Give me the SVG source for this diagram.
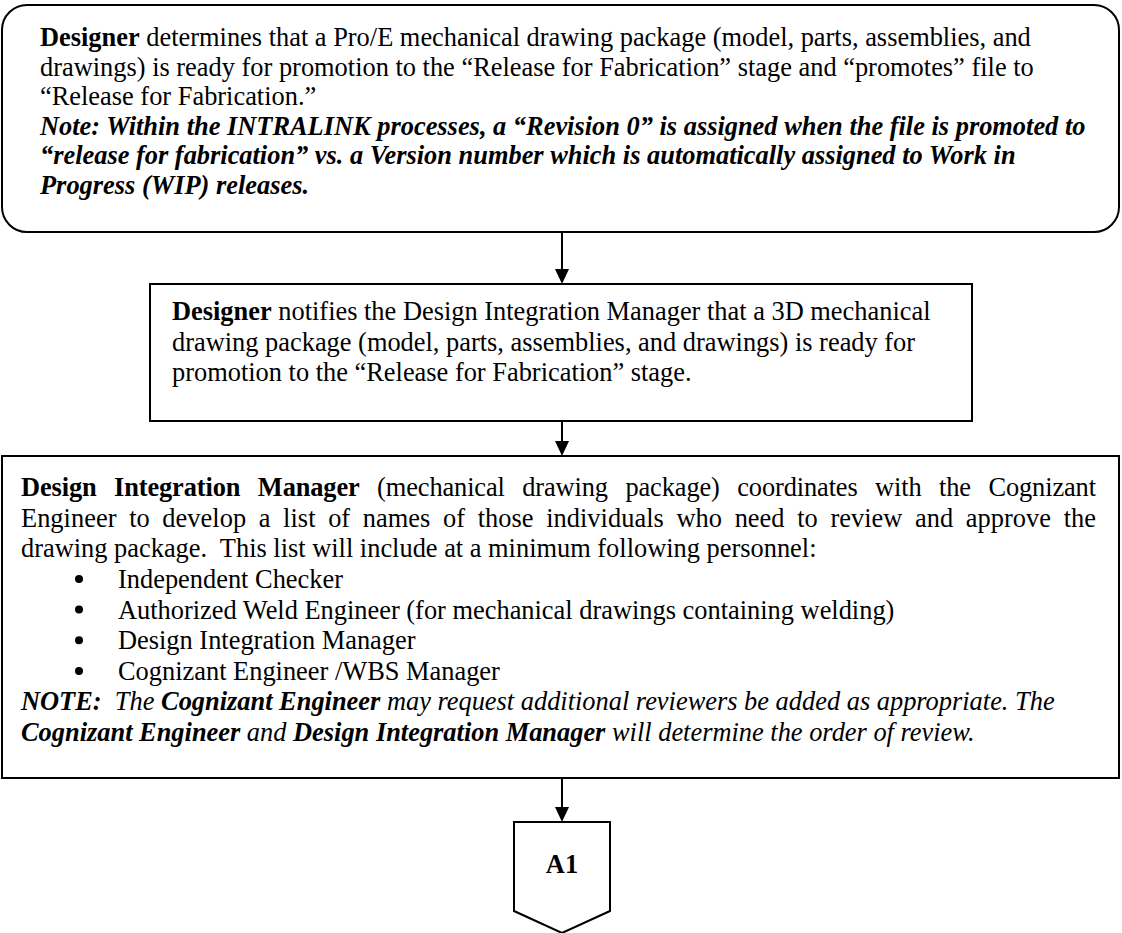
<svg xmlns="http://www.w3.org/2000/svg" width="1122" height="933" viewBox="0 0 1122 933">
  <defs>
    <marker id="arrow" markerWidth="15" markerHeight="14" refX="11" refY="7" orient="auto" markerUnits="userSpaceOnUse" viewBox="0 0 15 14">
      <path d="M0,0 L15,7 L0,14 Z" fill="#000"/>
    </marker>
    <style>
      .box { fill: #fff; stroke: #000; stroke-width: 2; }
      .txt { font-family: "Liberation Serif", "Times New Roman", serif; font-size: 26.4px; fill: #000; }
      .b { font-weight: bold; }
      .i { font-style: italic; }
      .bi { font-weight: bold; font-style: italic; }
      .edge { stroke: #000; stroke-width: 2; fill: none; }
    </style>
  </defs>
  <rect width="1122" height="933" fill="#fff"/>

  <!-- connectors -->
  <g id="connectors">
    <line class="edge" x1="562" y1="232" x2="562" y2="280" marker-end="url(#arrow)"/>
    <line class="edge" x1="562" y1="421" x2="562" y2="452" marker-end="url(#arrow)"/>
    <line class="edge" x1="562" y1="778" x2="562" y2="818" marker-end="url(#arrow)"/>
  </g>

  <!-- step 1: promotion by designer -->
  <g id="node-promote">
    <rect class="box" x="2" y="5" width="1117" height="227" rx="25" ry="25"/>
    <text class="txt" x="40" y="46"><tspan class="b">Designer</tspan> determines that a Pro/E mechanical drawing package (model, parts, assemblies, and</text>
    <text class="txt" x="40" y="75.5">drawings) is ready for promotion to the “Release for Fabrication” stage and “promotes” file to</text>
    <text class="txt" x="40" y="105">“Release for Fabrication.”</text>
    <text class="txt bi" x="40" y="134.5">Note: Within the INTRALINK processes, a “Revision 0” is assigned when the file is promoted to</text>
    <text class="txt bi" x="40" y="164">“release for fabrication” vs. a Version number which is automatically assigned to Work in</text>
    <text class="txt bi" x="40" y="193.5">Progress (WIP) releases.</text>
  </g>

  <!-- step 2: notification -->
  <g id="node-notify">
    <rect class="box" x="150" y="284" width="822" height="137"/>
    <text class="txt" x="172" y="320"><tspan class="b">Designer</tspan> notifies the Design Integration Manager that a 3D mechanical</text>
    <text class="txt" x="172" y="350.5">drawing package (model, parts, assemblies, and drawings) is ready for</text>
    <text class="txt" x="172" y="381">promotion to the “Release for Fabrication” stage.</text>
  </g>

  <!-- step 3: reviewer list -->
  <g id="node-reviewers">
    <rect class="box" x="2" y="456" width="1117" height="322"/>
    <text class="txt" x="21" y="496" word-spacing="11" textLength="1075" lengthAdjust="spacing"><tspan class="b">Design Integration Manager</tspan> (mechanical drawing package) coordinates with the Cognizant</text>
    <text class="txt" x="21" y="526.6" word-spacing="6" textLength="1075" lengthAdjust="spacing">Engineer to develop a list of names of those individuals who need to review and approve the</text>
    <text class="txt" x="21" y="557.3" xml:space="preserve">drawing package.  This list will include at a minimum following personnel:</text>
    <g id="reviewer-bullets">
      <circle cx="79" cy="579" r="4"/>
      <text class="txt" x="118" y="587.9">Independent Checker</text>
      <circle cx="79" cy="609.6" r="4"/>
      <text class="txt" x="118" y="618.5">Authorized Weld Engineer (for mechanical drawings containing welding)</text>
      <circle cx="79" cy="640.2" r="4"/>
      <text class="txt" x="118" y="649.1">Design Integration Manager</text>
      <circle cx="79" cy="670.9" r="4"/>
      <text class="txt" x="118" y="679.8">Cognizant Engineer /WBS Manager</text>
    </g>
    <text class="txt i" x="21" y="710.4" xml:space="preserve"><tspan class="b">NOTE:</tspan>  The <tspan class="b">Cognizant Engineer</tspan> may request additional reviewers be added as appropriate. The</text>
    <text class="txt i" x="21" y="741"><tspan class="b">Cognizant Engineer</tspan> and <tspan class="b">Design Integration Manager</tspan> will determine the order of review.</text>
  </g>

  <!-- off-page connector -->
  <g id="node-a1">
    <path class="box" d="M514,822 L610,822 L610,911 L562,933 L514,911 Z"/>
    <text class="txt b" x="562" y="873" text-anchor="middle">A1</text>
  </g>
</svg>
